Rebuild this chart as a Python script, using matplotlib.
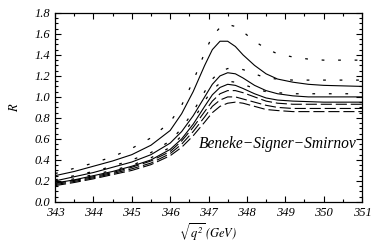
import matplotlib
matplotlib.use("Agg")
import matplotlib.pyplot as plt
from matplotlib.ticker import MultipleLocator

plt.rcParams["font.family"] = "Liberation Serif"
plt.rcParams["font.style"] = "italic"
plt.rcParams["mathtext.fontset"] = "stix"

# sqrt(q^2) grid in GeV
energy = [343, 343.5, 344, 344.5, 345, 345.5, 346, 346.3, 346.6, 346.9, 347.1, 347.3,
          347.5, 347.7, 347.9, 348.2, 348.5, 348.8, 349.2, 349.6, 350, 350.5, 351]

# solid curves
solid_1 = [0.25, 0.29, 0.34, 0.39, 0.45, 0.54, 0.68, 0.84, 1.05, 1.30, 1.45, 1.53,
           1.53, 1.48, 1.40, 1.30, 1.22, 1.17, 1.14, 1.12, 1.11, 1.105, 1.10]
solid_2 = [0.20, 0.24, 0.28, 0.33, 0.38, 0.45, 0.56, 0.67, 0.82, 1.00, 1.12, 1.20,
           1.23, 1.22, 1.18, 1.11, 1.06, 1.03, 1.01, 1.00, 1.00, 1.00, 1.00]
solid_3 = [0.18, 0.21, 0.25, 0.29, 0.34, 0.40, 0.50, 0.60, 0.74, 0.91, 1.02, 1.09,
           1.12, 1.11, 1.08, 1.03, 0.99, 0.97, 0.96, 0.955, 0.95, 0.95, 0.95]

# dotted curves
dotted_1 = [0.27, 0.32, 0.37, 0.43, 0.51, 0.61, 0.76, 0.92, 1.15, 1.42, 1.58, 1.66,
            1.69, 1.67, 1.62, 1.53, 1.46, 1.41, 1.38, 1.36, 1.35, 1.35, 1.35]
dotted_2 = [0.21, 0.25, 0.29, 0.34, 0.40, 0.47, 0.58, 0.70, 0.86, 1.05, 1.17, 1.24,
            1.27, 1.27, 1.26, 1.22, 1.18, 1.17, 1.16, 1.16, 1.16, 1.16, 1.16]
dotted_3 = [0.19, 0.22, 0.26, 0.30, 0.35, 0.42, 0.52, 0.63, 0.78, 0.96, 1.07, 1.13,
            1.15, 1.14, 1.12, 1.08, 1.05, 1.04, 1.03, 1.03, 1.03, 1.03, 1.03]

# dashed curves
dashed_1 = [0.175, 0.205, 0.24, 0.28, 0.33, 0.39, 0.48, 0.58, 0.71, 0.86, 0.96, 1.03,
            1.06, 1.06, 1.04, 1.00, 0.96, 0.94, 0.93, 0.93, 0.93, 0.93, 0.93]
dashed_2 = [0.165, 0.195, 0.23, 0.27, 0.315, 0.37, 0.46, 0.55, 0.67, 0.81, 0.91, 0.97,
            1.00, 1.00, 0.98, 0.95, 0.92, 0.90, 0.89, 0.89, 0.89, 0.89, 0.89]
dashed_3 = [0.155, 0.185, 0.22, 0.26, 0.30, 0.355, 0.44, 0.52, 0.63, 0.76, 0.85, 0.91,
            0.94, 0.95, 0.94, 0.91, 0.88, 0.87, 0.86, 0.86, 0.86, 0.86, 0.86]

fig = plt.figure(figsize=(3.72, 2.43), dpi=100)
ax = fig.add_axes([0.148, 0.169, 0.825, 0.778])

for y in (solid_1, solid_2, solid_3):
    ax.plot(energy, y, color="black", lw=0.8)
for y in (dotted_1, dotted_2, dotted_3):
    ax.plot(energy, y, color="black", lw=0.9, linestyle=(0, (2.2, 11)))
for y in (dashed_1, dashed_2, dashed_3):
    ax.plot(energy, y, color="black", lw=0.8, linestyle=(0, (10, 3.5)))

ax.text(346.75, 0.55, "Beneke\u2212Signer\u2212Smirnov", fontsize=11.2, va="center")

ax.set_xlim(343, 351)
ax.set_ylim(0.0, 1.8)
ax.xaxis.set_major_locator(MultipleLocator(1))
ax.xaxis.set_minor_locator(MultipleLocator(0.5))
ax.yaxis.set_major_locator(MultipleLocator(0.2))
ax.yaxis.set_minor_locator(MultipleLocator(0.05))
ax.yaxis.set_major_formatter(plt.FuncFormatter(lambda v, p: f"{v:.1f}"))
ax.tick_params(which="both", direction="in", top=True, right=True, width=0.8)
ax.tick_params(which="major", length=4, labelsize=9)
ax.tick_params(which="minor", length=2)
for s in ax.spines.values():
    s.set_linewidth(0.9)

ax.set_ylabel(r"$R$", fontsize=9, labelpad=10)
ax.set_xlabel(r"$\sqrt{q^2}\,(GeV)$", fontsize=9, labelpad=2)

fig.savefig("out.png", dpi=100)
